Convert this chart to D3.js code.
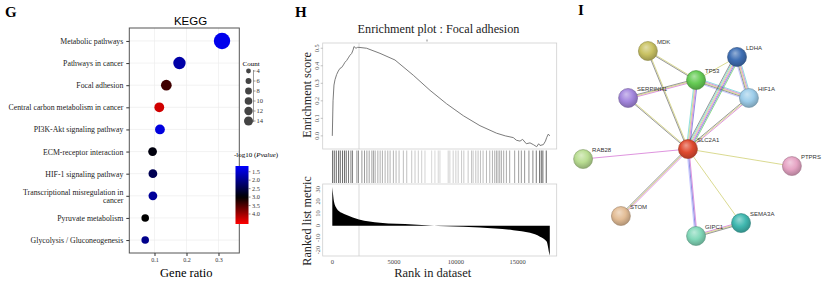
<!DOCTYPE html>
<html>
<head>
<meta charset="utf-8">
<script src="https://cdn.jsdelivr.net/npm/d3@7"></script>
<style>
body { margin: 0; background: #fff; }
svg { display: block; }
</style>
</head>
<body>
<div id="container"></div>
<script>
// ---------- G: KEGG dot plot ----------
const keggTerms = ["Metabolic pathways", "Pathways in cancer", "Focal adhesion",
  "Central carbon metabolism in cancer", "PI3K-Akt signaling pathway", "ECM-receptor interaction",
  "HIF-1 signaling pathway", "Transcriptional misregulation in cancer", "Pyruvate metabolism",
  "Glycolysis / Gluconeogenesis"];
const keggRatio = [0.311, 0.178, 0.137, 0.115, 0.117, 0.094, 0.095, 0.095, 0.071, 0.071];
const keggCount = [14, 8, 6, 5, 5, 4, 4, 4, 3, 3];
const keggLogP = [1.3, 1.8, 3.4, 4.3, 1.4, 2.9, 2.4, 1.9, 3.0, 2.0];
const ratioTicks = [0.1, 0.2, 0.3];
const countTicks = [4, 6, 8, 10, 12, 14];
const pTicks = [1.5, 2.0, 2.5, 3.0, 3.5, 4.0];

// ---------- H: GSEA enrichment plot ----------
const esRank = [0, 60, 135, 216, 350, 486, 620, 755, 900, 1025, 1160, 1295, 1430, 1565, 1680, 1754,
  1830, 1915, 2040, 2158, 2779, 3858, 5072, 6556, 7905, 9253, 10602, 11951, 13300, 14000, 14649,
  14900, 15189, 15400, 15700, 16000, 16268, 16538, 16700, 16808, 17078, 17250, 17347, 17482, 17600];
const esScore = [0.0, 0.2, 0.29, 0.32, 0.35, 0.37, 0.385, 0.39, 0.405, 0.42, 0.43, 0.445, 0.46, 0.47,
  0.49, 0.51, 0.505, 0.5, 0.505, 0.505, 0.5, 0.471, 0.433, 0.346, 0.26, 0.183, 0.115, 0.058, 0.015,
  0.0, -0.01, -0.025, -0.03, -0.02, -0.045, -0.04, -0.05, -0.062, -0.045, -0.055, -0.05, -0.03,
  -0.01, 0.01, 0.0];
const hitRanks = [24, 161, 323, 510, 645, 830, 992, 1129, 1314, 1508, 1637, 1992, 2121, 2395, 2605,
  2799, 2984, 3202, 3331, 3468, 3686, 3871, 4056, 4274, 4492, 4677, 4943, 5161, 5403, 5750, 6024,
  6427, 6694, 6960, 7234, 7500, 8040, 8306, 8573, 8710, 9379, 9516, 9782, 10000, 10186, 10460,
  10645, 10992, 11266, 11395, 11613, 11798, 11992, 12202, 12476, 12742, 12960, 13145, 13282, 13411,
  13548, 13685, 13871, 14089, 14355, 14758, 15081, 15298, 15565, 15912, 16234, 16508, 16774, 16911,
  17040, 17315];
const metricRank = [0, 60, 135, 350, 755, 1160, 2158, 3858, 6556, 7900, 9253, 11951, 14649, 16000,
  16808, 17347, 17563, 17600];
const metricValue = [32, 26, 20, 14.3, 10.7, 8.8, 5.2, 2.5, 1.1, 0.3, -0.5, -1.4, -3.6, -5.8, -9,
  -13, -23, -24.5];
const leadingEdgeRank = 2160;
const rankTicks = [0, 5000, 10000, 15000];
const esTicks = [0.0, 0.1, 0.2, 0.3, 0.4, 0.5];
const metricTicks = [30, 20, 10, 0, -10, -20];

// ---------- I: STRING network ----------
const geneNames = ["MDK", "LDHA", "TP53", "HIF1A", "SERPINH1", "SLC2A1", "RAB28", "PTPRS", "STOM", "SEMA3A", "GIPC1"];
const geneX = [32.4, 72, 53.8, 77.3, 23.6, 50.2, 3.6, 96.4, 20.4, 73.8, 53.8];
const geneY = [0, 3.2, 15.7, 25.4, 25.4, 53, 58.4, 62.2, 89.2, 93, 100];
const geneColor = ["#c9c263", "#3f6fb4", "#66cc55", "#9dcdea", "#a487de", "#e04a30", "#b9dd92",
  "#e6a4c4", "#e3bd96", "#40b8b0", "#82d8b9"];
const edgeFrom = ["MDK", "MDK", "TP53", "TP53", "TP53", "TP53", "LDHA", "LDHA", "HIF1A", "SERPINH1",
  "SLC2A1", "SLC2A1", "SLC2A1", "SLC2A1", "SLC2A1", "GIPC1"];
const edgeTo = ["TP53", "SLC2A1", "LDHA", "HIF1A", "SERPINH1", "SLC2A1", "HIF1A", "SLC2A1", "SLC2A1",
  "SLC2A1", "RAB28", "PTPRS", "STOM", "GIPC1", "SEMA3A", "SEMA3A"];
const edgeEvidence = [["tm", "coexp"], ["tm", "coexp"], ["tm"], ["db", "exp", "tm", "coexp", "hom"],
  ["exp", "tm", "coexp"], ["cooc", "exp", "tm", "db"], ["db", "exp", "tm", "coexp", "hom"],
  ["nbr", "cooc", "exp", "tm", "db", "coexp"], ["exp", "tm", "coexp"], ["tm", "coexp"], ["exp"],
  ["tm"], ["exp", "tm", "coexp"], ["exp", "cooc", "hom"], ["tm"], ["exp", "tm", "coexp"]];
const evidenceColor = { db: "#33c8c8", exp: "#c43fc4", tm: "#bcbc3a", coexp: "#444444",
  hom: "#9a9aff", nbr: "#33c033", cooc: "#3535c8" };

const serif = "'Liberation Serif','Times New Roman',serif";
const sans = "'Liberation Sans',Arial,sans-serif";

const svg = d3.select("#container").append("svg")
  .attr("width", 824).attr("height", 283)
  .style("font-family", serif);
const defs = svg.append("defs");

// ================= panel G =================
const gx = d3.scaleLinear().domain([0.0213, 0.365]).range([129.3, 239.3]);
const gy = d3.scalePoint().domain(keggTerms).range([28, 253]).padding(0.585);
const gr = d3.scaleSqrt().domain([0, 14]).range([0, 8.2]);
const gc = d3.scaleLinear().domain([1.163, 3.0, 4.59]).range(["#0000ff", "#000000", "#ff0000"]).clamp(true);

svg.append("text").attr("x", 5).attr("y", 17).attr("font-weight", "bold").attr("font-size", 15).text("G");
svg.append("text").attr("x", 190.5).attr("y", 25).attr("text-anchor", "middle")
  .attr("font-family", sans).attr("font-size", 11.5).text("KEGG");

const grid = svg.append("g").attr("stroke", "#ececec").attr("stroke-width", 0.7);
grid.selectAll("line.v").data(ratioTicks).join("line")
  .attr("x1", d => gx(d)).attr("x2", d => gx(d)).attr("y1", 28).attr("y2", 253);
grid.selectAll("line.h").data(keggTerms).join("line")
  .attr("x1", 129.3).attr("x2", 239.3).attr("y1", d => gy(d)).attr("y2", d => gy(d));

svg.append("rect").attr("x", 129.3).attr("y", 28).attr("width", 110).attr("height", 225)
  .attr("fill", "none").attr("stroke", "#555").attr("stroke-width", 1);

const yAx = svg.append("g").attr("transform", "translate(129.3,0)")
  .call(d3.axisLeft(gy).tickSize(3).tickPadding(3));
yAx.select(".domain").remove();
yAx.selectAll(".tick line").attr("stroke", "#333");
yAx.selectAll(".tick text").attr("font-family", serif).attr("font-size", 7.8).attr("fill", "#222")
  .each(function(d) {
    if (d.length > 36) {
      const t = d3.select(this);
      const cut = d.lastIndexOf(" ");
      t.text(null);
      t.append("tspan").attr("x", -6).attr("dy", "-0.2em").text(d.slice(0, cut));
      t.append("tspan").attr("x", -6).attr("dy", "1.05em").text(d.slice(cut + 1));
    }
  });

const xAx = svg.append("g").attr("transform", "translate(0,253)")
  .call(d3.axisBottom(gx).tickValues(ratioTicks).tickSize(3).tickPadding(2).tickFormat(d3.format(".1f")));
xAx.select(".domain").remove();
xAx.selectAll(".tick line").attr("stroke", "#333");
xAx.selectAll(".tick text").attr("font-family", serif).attr("font-size", 6).attr("fill", "#333");

svg.append("g").selectAll("circle").data(keggTerms).join("circle")
  .attr("cx", (d, i) => gx(keggRatio[i]))
  .attr("cy", d => gy(d))
  .attr("r", (d, i) => gr(keggCount[i]))
  .attr("fill", (d, i) => gc(keggLogP[i]));

svg.append("text").attr("x", 186.3).attr("y", 277).attr("text-anchor", "middle")
  .attr("font-size", 12.5).text("Gene ratio");

// count legend
svg.append("text").attr("x", 242.5).attr("y", 66).attr("font-size", 7).text("Count");
const ly = d3.scaleLinear().domain([4, 14]).range([71, 121]);
const lg = svg.append("g");
lg.selectAll("circle").data(countTicks).join("circle")
  .attr("cx", 248.5).attr("cy", d => ly(d)).attr("r", d => gr(d) * 0.55).attr("fill", "#444");
lg.append("line").attr("x1", 253.5).attr("x2", 253.5).attr("y1", ly(4) - 1).attr("y2", ly(14) + 1)
  .attr("stroke", "#555").attr("stroke-width", 0.6);
lg.selectAll("line.t").data(countTicks).join("line")
  .attr("x1", 253.5).attr("x2", 255.5).attr("y1", d => ly(d)).attr("y2", d => ly(d))
  .attr("stroke", "#555").attr("stroke-width", 0.6);
lg.selectAll("text").data(countTicks).join("text")
  .attr("x", 256.5).attr("y", d => ly(d) + 2.3).attr("font-size", 6.5).attr("fill", "#333").text(d => d);

// colour bar
const cbY = d3.scaleLinear().domain([1.163, 4.59]).range([166, 224]);
const grad = defs.append("linearGradient").attr("id", "cbar").attr("x1", 0).attr("x2", 0).attr("y1", 0).attr("y2", 1);
d3.range(0, 1.001, 0.05).forEach(f => {
  grad.append("stop").attr("offset", f).attr("stop-color", gc(cbY.invert(166 + f * 58)));
});
const ct = svg.append("text").attr("x", 234).attr("y", 157).attr("font-size", 7);
ct.append("tspan").text("-log10 (");
ct.append("tspan").attr("font-style", "italic").text("Pvalue");
ct.append("tspan").text(")");
svg.append("rect").attr("x", 235.5).attr("y", 166).attr("width", 13).attr("height", 58).attr("fill", "url(#cbar)");
const cb = svg.append("g");
cb.selectAll("line").data(pTicks).join("line")
  .attr("x1", 248.5).attr("x2", 250.5).attr("y1", d => cbY(d)).attr("y2", d => cbY(d))
  .attr("stroke", "#444").attr("stroke-width", 0.6);
cb.selectAll("text").data(pTicks).join("text")
  .attr("x", 252).attr("y", d => cbY(d) + 2.2).attr("font-size", 6.3).attr("fill", "#333")
  .text(d => d3.format(".1f")(d));

// ================= panel H =================
const hx = d3.scaleLinear().domain([-777, 18160]).range([322.7, 556.7]);
const hyES = d3.scaleLinear().domain([-0.075, 0.53]).range([149, 43]);
const hyM = d3.scaleLinear().domain([-24.9, 34.4]).range([256, 184]);
const absM = d3.scaleLinear().domain(metricRank).range(metricValue.map(Math.abs));
const shade = d3.scaleLinear().domain([0, 2, 10]).range(["#dadada", "#acacac", "#555555"]).clamp(true);

svg.append("text").attr("x", 295).attr("y", 17).attr("font-weight", "bold").attr("font-size", 15).text("H");
svg.append("text").attr("x", 438.5).attr("y", 33).attr("text-anchor", "middle")
  .attr("font-size", 12.2).attr("fill", "#222").text("Enrichment plot : Focal adhesion");
svg.append("line").attr("x1", 427).attr("x2", 427).attr("y1", 39.5).attr("y2", 41.5)
  .attr("stroke", "#666").attr("stroke-width", 0.8);

// ES panel
svg.append("rect").attr("x", 322.7).attr("y", 43).attr("width", 234).attr("height", 106)
  .attr("fill", "none").attr("stroke", "#cfcfcf").attr("stroke-width", 0.8);
svg.append("line").attr("x1", hx(leadingEdgeRank)).attr("x2", hx(leadingEdgeRank)).attr("y1", 43).attr("y2", 149)
  .attr("stroke", "#cfcfcf").attr("stroke-width", 0.8);
svg.append("path").datum(esRank)
  .attr("d", d3.line().x(d => hx(d)).y((d, i) => hyES(esScore[i])))
  .attr("fill", "none").attr("stroke", "#6c6c6c").attr("stroke-width", 0.9);
const esAx = svg.append("g");
esAx.selectAll("line").data(esTicks).join("line")
  .attr("x1", 320.7).attr("x2", 322.7).attr("y1", d => hyES(d)).attr("y2", d => hyES(d))
  .attr("stroke", "#999").attr("stroke-width", 0.6);
esAx.selectAll("text").data(esTicks).join("text")
  .attr("transform", d => `translate(318.5,${hyES(d)}) rotate(-90)`)
  .attr("text-anchor", "middle").attr("font-size", 6.3).attr("fill", "#555")
  .text(d => d3.format(".1f")(d));
svg.append("text").attr("transform", "translate(311,95) rotate(-90)").attr("text-anchor", "middle")
  .attr("font-size", 12.2).attr("fill", "#222").text("Enrichment score");

// hit barcode
svg.append("g").selectAll("line").data(hitRanks).join("line")
  .attr("x1", d => hx(d)).attr("x2", d => hx(d)).attr("y1", 150.5).attr("y2", 183)
  .attr("stroke", d => shade(absM(d))).attr("stroke-width", 0.9);

// ranked list metric
svg.append("rect").attr("x", 322.7).attr("y", 184).attr("width", 234).attr("height", 72)
  .attr("fill", "none").attr("stroke", "#cfcfcf").attr("stroke-width", 0.8);
svg.append("line").attr("x1", hx(leadingEdgeRank)).attr("x2", hx(leadingEdgeRank)).attr("y1", 184).attr("y2", 256)
  .attr("stroke", "#cfcfcf").attr("stroke-width", 0.8);
svg.append("path").datum(metricRank)
  .attr("d", d3.area().curve(d3.curveMonotoneX).x(d => hx(d)).y0(hyM(0)).y1((d, i) => hyM(metricValue[i])))
  .attr("fill", "#000");
const mAx = svg.append("g");
mAx.selectAll("text").data(metricTicks).join("text")
  .attr("transform", d => `translate(319.5,${hyM(d)}) rotate(-90)`)
  .attr("text-anchor", "middle").attr("font-size", 6.3).attr("fill", "#555").text(d => d);
svg.append("text").attr("transform", "translate(311,221) rotate(-90)").attr("text-anchor", "middle")
  .attr("font-size", 12.2).attr("fill", "#222").text("Ranked list metric");

svg.append("g").selectAll("text").data(rankTicks).join("text")
  .attr("x", d => hx(d)).attr("y", 263.5).attr("text-anchor", "middle")
  .attr("font-size", 6.5).attr("fill", "#444").text(d => d);
svg.append("text").attr("x", 432.7).attr("y", 277).attr("text-anchor", "middle")
  .attr("font-size", 12.5).attr("fill", "#222").text("Rank in dataset");

// ================= panel I =================
const nx = d3.scaleLinear().domain([0, 100]).range([575, 800]);
const ny = d3.scaleLinear().domain([0, 100]).range([51, 236]);
const idx = name => geneNames.indexOf(name);

svg.append("text").attr("x", 578).attr("y", 15).attr("font-weight", "bold").attr("font-size", 15).text("I");

const eg = svg.append("g").attr("stroke-width", 0.8).attr("stroke-opacity", 0.7);
edgeFrom.forEach((a, k) => {
  const i = idx(a), j = idx(edgeTo[k]);
  const x1 = nx(geneX[i]), y1 = ny(geneY[i]), x2 = nx(geneX[j]), y2 = ny(geneY[j]);
  const len = Math.hypot(x2 - x1, y2 - y1);
  const ox = -(y2 - y1) / len, oy = (x2 - x1) / len;
  const ev = edgeEvidence[k];
  ev.forEach((e, m) => {
    const off = (m - (ev.length - 1) / 2) * 1.05;
    eg.append("line")
      .attr("x1", x1 + ox * off).attr("y1", y1 + oy * off)
      .attr("x2", x2 + ox * off).attr("y2", y2 + oy * off)
      .attr("stroke", evidenceColor[e]);
  });
});

geneNames.forEach((g, i) => {
  const c = d3.color(geneColor[i]);
  const rg = defs.append("radialGradient").attr("id", "node" + i)
    .attr("cx", "45%").attr("cy", "40%").attr("r", "60%").attr("fx", "40%").attr("fy", "30%");
  rg.append("stop").attr("offset", "0%").attr("stop-color", d3.interpolateRgb(geneColor[i], "#fff")(0.45));
  rg.append("stop").attr("offset", "55%").attr("stop-color", geneColor[i]);
  rg.append("stop").attr("offset", "100%").attr("stop-color", c.darker(0.7).formatHex());
});

const ng = svg.append("g");
ng.selectAll("circle").data(geneNames).join("circle")
  .attr("cx", (d, i) => nx(geneX[i])).attr("cy", (d, i) => ny(geneY[i])).attr("r", 9.5)
  .attr("fill", (d, i) => `url(#node${i})`)
  .attr("stroke", (d, i) => d3.color(geneColor[i]).darker(1).formatHex()).attr("stroke-width", 0.6);
ng.selectAll("text").data(geneNames).join("text")
  .attr("x", (d, i) => nx(geneX[i]) + 9).attr("y", (d, i) => ny(geneY[i]) - 7)
  .attr("font-family", sans).attr("font-size", 6).attr("fill", "#333").text(d => d);
</script>
</body>
</html>
